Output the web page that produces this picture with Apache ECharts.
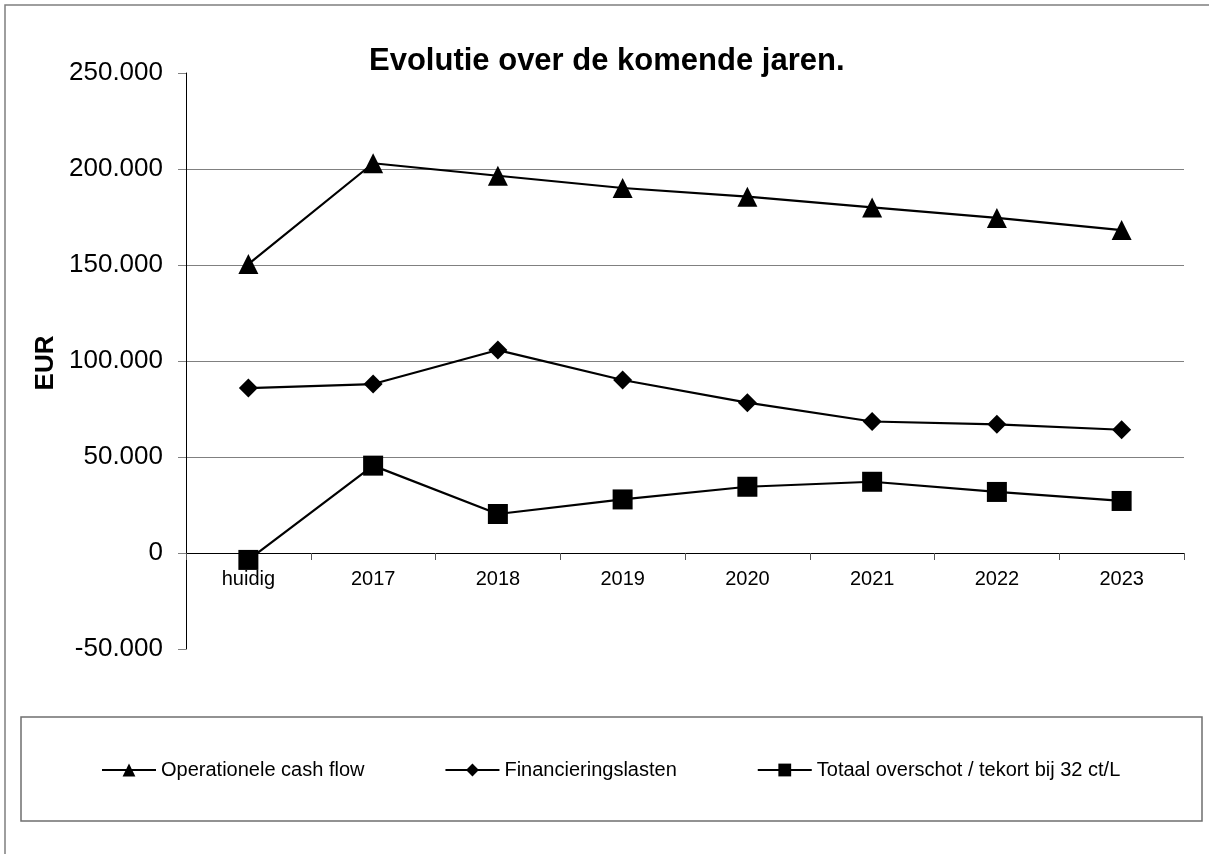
<!DOCTYPE html>
<html>
<head>
<meta charset="utf-8">
<style>
  html, body { margin: 0; padding: 0; background: #ffffff; }
  #chart { width: 1209px; height: 854px; }
</style>
<script src="https://cdn.jsdelivr.net/npm/echarts@6/dist/echarts.min.js"></script>
</head>
<body>
<div id="chart"></div>
<script>
// ---- data ----
const categories = ['huidig', '2017', '2018', '2019', '2020', '2021', '2022', '2023'];
const operationeleCashFlow = [150500, 203000, 196500, 190100, 185600, 180000, 174500, 168200];
const financieringslasten = [85900, 88000, 105700, 90100, 78300, 68500, 67000, 64200];
const totaalOverschot = [-3600, 45500, 20300, 27900, 34500, 37100, 31800, 27100];
const seriesNames = ['Operationele cash flow', 'Financieringslasten', 'Totaal overschot / tekort bij 32 ct/L'];
const titleText = 'Evolutie over de komende jaren.';
const yAxisTitle = 'EUR';
const yMin = -50000, yMax = 250000, yStep = 50000;

const FONT = '"Liberation Sans", Arial, sans-serif';

function fmt(v) {
  const s = Math.abs(v).toString().replace(/\B(?=(\d{3})+(?!\d))/g, '.');
  return (v < 0 ? '-' : '') + s;
}

const chart = echarts.init(document.getElementById('chart'), null, { renderer: 'canvas' });

function lineSeries(name, data, symbol, size) {
  return {
    name: name,
    type: 'line',
    data: data,
    symbol: symbol,
    symbolSize: size,
    showAllSymbol: true,
    lineStyle: { color: '#000', width: 2.2 },
    itemStyle: { color: '#000', borderWidth: 0 },
    emphasis: { disabled: true },
    animation: false,
    z: 3
  };
}

// grid geometry: plot height 576 for 300000 -> zero line sits 96px above bottom
const gridTop = 73, gridBottom = 205, plotH = 576;
const zeroOffset = plotH * (0 - yMin) / (yMax - yMin);

chart.setOption({
  backgroundColor: '#ffffff',
  animation: false,
  textStyle: { fontFamily: FONT },
  title: {
    text: titleText,
    left: 369,
    top: 46,
    padding: 0,
    textStyle: { fontFamily: FONT, fontSize: 31, fontWeight: 'bold', color: '#000' }
  },
  graphic: [
    {
      type: 'polyline',
      shape: { points: [[5, 854], [5, 5], [1209, 5]] },
      style: { stroke: '#7f7f7f', lineWidth: 1.5, fill: null },
      silent: true
    },
    {
      type: 'rect',
      shape: { x: 21, y: 717, width: 1181, height: 104 },
      style: { stroke: '#6f6f6f', lineWidth: 1.5, fill: '#fff' },
      silent: true,
      z: -1
    },
    {
      type: 'text',
      x: 46, y: 363,
      rotation: Math.PI / 2,
      style: {
        text: yAxisTitle,
        fontFamily: FONT, fontSize: 26, fontWeight: 'bold', fill: '#000',
        textAlign: 'center', textVerticalAlign: 'middle'
      },
      silent: true
    }
  ],
  legend: {
    data: seriesNames,
    left: 96,
    top: 755,
    itemWidth: 54,
    itemHeight: 16,
    itemGap: 80,
    selectedMode: false,
    textStyle: { fontFamily: FONT, fontSize: 20, color: '#000', padding: [0, 0, 0, 0] }
  },
  grid: {
    left: 186,
    right: 25,
    top: gridTop,
    bottom: gridBottom,
    containLabel: false
  },
  xAxis: {
    type: 'category',
    data: categories,
    boundaryGap: true,
    offset: -zeroOffset,
    axisLine: { onZero: false, lineStyle: { color: '#000', width: 1 } },
    axisTick: { show: true, alignWithLabel: false, length: 7, lineStyle: { color: '#555' } },
    axisLabel: { fontFamily: FONT, fontSize: 20, color: '#000', margin: 16 },
    splitLine: { show: false }
  },
  yAxis: {
    type: 'value',
    min: yMin,
    max: yMax,
    interval: yStep,
    axisLine: { show: true, lineStyle: { color: '#000', width: 1 } },
    axisTick: { show: true, length: 8, lineStyle: { color: '#808080' } },
    axisLabel: { fontFamily: FONT, fontSize: 26, color: '#000', margin: 23, formatter: fmt },
    splitLine: { show: true, showMinLine: false, showMaxLine: false, lineStyle: { color: '#808080', width: 1 } }
  },
  series: [
    lineSeries(seriesNames[0], operationeleCashFlow, 'triangle', 20),
    lineSeries(seriesNames[1], financieringslasten, 'diamond', 19),
    lineSeries(seriesNames[2], totaalOverschot, 'rect', 20)
  ]
});
</script>
</body>
</html>
